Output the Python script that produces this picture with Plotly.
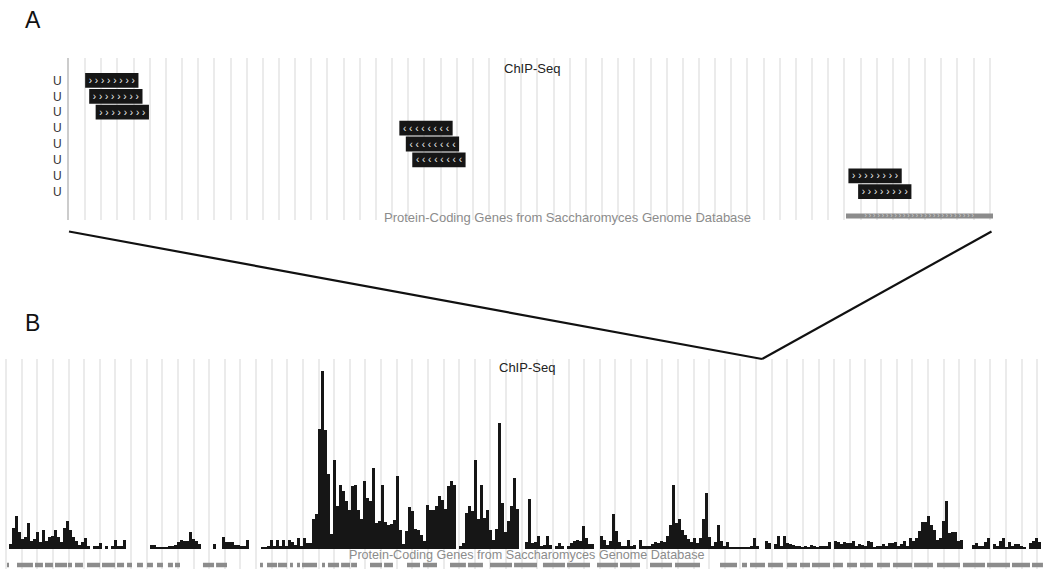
import plotly.graph_objects as go

W, H = 1047, 569
FONT = "Liberation Sans, Arial, sans-serif"
INK = "#161616"
GRID = "#ebebeb"
GENE_GRAY = "#8c8c8c"

# ---------------- Panel A: individual ChIP-Seq reads (~1.1 kb window) ----------------
A_START, A_END = 47810, 48954
read_start = [47830, 47835, 47843, 48219, 48227, 48235, 48775, 48787]
read_len = [66, 66, 66, 66, 66, 66, 66, 66]
read_strand = ["+", "+", "+", "-", "-", "-", "+", "+"]
read_row = [1, 2, 3, 4, 5, 6, 7, 8]
row_label = ["U", "U", "U", "U", "U", "U", "U", "U"]

geneA_start = [48772]
geneA_end = [48954]
geneA_strand = ["+"]

# ---------------- Panel B: ChIP-Seq coverage over ~66 kb ----------------
B_START = 187          # first bin start (bp)
BIN = 192              # bin size (bp)
coverage = [
    5, 21, 33, 17, 10, 12, 26, 8, 10, 17,
    7, 19, 8, 12, 13, 19, 12, 7, 21, 28,
    19, 12, 8, 4, 7, 11, 3, 0, 3, 3,
    6, 0, 3, 0, 3, 9, 3, 3, 9, 0,
    0, 0, 0, 0, 0, 0, 0, 4, 4, 2,
    2, 2, 2, 3, 3, 4, 7, 9, 8, 8,
    17, 10, 8, 5, 0, 0, 0, 0, 5, 0,
    0, 12, 7, 7, 7, 4, 4, 3, 3, 9,
    0, 0, 0, 0, 2, 2, 3, 9, 3, 9,
    3, 9, 3, 9, 7, 4, 11, 3, 11, 6,
    6, 30, 35, 120, 178, 119, 75, 15, 89, 43,
    64, 58, 48, 39, 63, 64, 39, 30, 68, 51,
    48, 81, 26, 28, 64, 27, 24, 25, 29, 73,
    19, 5, 18, 42, 38, 20, 19, 14, 8, 44,
    39, 39, 43, 53, 49, 40, 63, 68, 64, 0,
    3, 6, 36, 43, 38, 89, 30, 64, 31, 39,
    19, 9, 20, 126, 46, 17, 28, 43, 71, 40,
    0, 0, 7, 50, 6, 7, 13, 3, 4, 13,
    4, 0, 3, 6, 3, 0, 3, 6, 8, 9,
    8, 23, 11, 5, 5, 0, 0, 13, 9, 4,
    8, 35, 18, 7, 3, 3, 9, 3, 4, 0,
    9, 3, 3, 3, 5, 7, 6, 8, 7, 13,
    24, 64, 26, 30, 19, 14, 10, 7, 11, 6,
    11, 30, 56, 12, 3, 7, 24, 8, 3, 7,
    2, 2, 2, 2, 2, 2, 2, 3, 11, 3,
    0, 0, 8, 6, 0, 5, 13, 3, 13, 6,
    5, 4, 3, 3, 2, 3, 2, 4, 3, 2,
    3, 3, 3, 7, 0, 8, 7, 5, 7, 6,
    6, 8, 3, 5, 4, 3, 8, 7, 2, 3,
    3, 5, 3, 6, 6, 7, 3, 5, 8, 3,
    11, 8, 11, 18, 27, 27, 33, 24, 19, 9,
    11, 28, 48, 16, 17, 17, 8, 9, 0, 0,
    0, 4, 6, 3, 3, 7, 11, 0, 5, 3,
    8, 11, 2, 7, 3, 5, 5, 3, 2, 0,
    6, 8, 11, 7,
]

geneB_start = [60, 700, 1850, 2490, 3130, 3960, 4410, 5180, 6140, 7100,
               7740, 8380, 9020, 9660, 10360, 10810, 12600, 13440, 16250, 16700,
               17400, 18170, 18620, 18940, 20220, 20600, 21440, 22080, 23290, 24190,
               25660, 26680, 28410, 29560, 30970, 32510, 34360, 35900, 37820, 39290,
               41210, 42810, 45690, 47100, 47610, 48760, 49980, 50810, 51580, 52920,
               53820, 54650, 55740, 56760, 58110, 59580, 61240, 62780, 64380, 65660]
geneB_end = [155, 1720, 2360, 3000, 3900, 4220, 4920, 6010, 6970, 7550,
             8060, 8760, 9400, 10040, 10680, 11130, 13310, 14140, 16440, 17340,
             17980, 18360, 18810, 19900, 20410, 21310, 22010, 22460, 24060, 24760,
             26490, 27580, 29430, 30520, 32380, 33980, 35770, 37370, 39160, 40570,
             42620, 44410, 46780, 47420, 48570, 49720, 50620, 51450, 52730, 53560,
             54460, 55480, 56570, 57980, 59320, 61050, 62650, 64250, 65530, 66360]

# ---------------- layout geometry (pixels) ----------------
A_LEFT, A_RIGHT, A_TOP, A_BOTTOM = 69, 993, 58, 220
B_TOP = 359
ROW_PX = 15.9              # pixels per read row
ROW1_PX = 80.4             # centre of first row
a_yrange = [1 + (A_BOTTOM - ROW1_PX) / ROW_PX, 1 - (ROW1_PX - A_TOP) / ROW_PX]
geneA_row = 1 + (216 - ROW1_PX) / ROW_PX
b_xrange = [B_START - 9 * BIN / 3, B_START + (W - 9) * BIN / 3]
b_yrange = [-20, 190]
geneB_level = -16


def chevrons(strand, n):
    ch = "\u203a" if strand == "+" else "\u2039"
    return " ".join([ch] * n)


fig = go.Figure()

# reads
fig.add_trace(go.Bar(
    orientation="h",
    base=read_start,
    x=read_len,
    y=read_row,
    width=0.93,
    marker=dict(color=INK, line=dict(width=0)),
    text=[chevrons(s, 8) for s in read_strand],
    textposition="inside",
    insidetextanchor="middle",
    constraintext="none",
    textfont=dict(family=FONT, size=10, color="#f0f0f0"),
    xaxis="x", yaxis="y",
    hoverinfo="skip", showlegend=False,
))

# gene model in panel A
fig.add_trace(go.Bar(
    orientation="h",
    base=geneA_start,
    x=[e - s for s, e in zip(geneA_start, geneA_end)],
    y=[geneA_row] * len(geneA_start),
    width=0.3,
    marker=dict(color=GENE_GRAY, line=dict(width=0)),
    text=[chevrons(s, 26) for s in geneA_strand],
    textposition="inside",
    insidetextanchor="middle",
    constraintext="none",
    textfont=dict(family=FONT, size=7, color="#d4d4d4"),
    xaxis="x", yaxis="y",
    hoverinfo="skip", showlegend=False,
))

# coverage histogram
fig.add_trace(go.Bar(
    x=[B_START + BIN * (i + 0.5) for i in range(len(coverage))],
    y=coverage,
    width=BIN,
    marker=dict(color=INK, line=dict(width=0)),
    xaxis="x2", yaxis="y2",
    hoverinfo="skip", showlegend=False,
))

# gene models in panel B
fig.add_trace(go.Bar(
    orientation="h",
    base=geneB_start,
    x=[e - s for s, e in zip(geneB_start, geneB_end)],
    y=[geneB_level] * len(geneB_start),
    width=4.5,
    marker=dict(color=GENE_GRAY, line=dict(width=0)),
    xaxis="x2", yaxis="y2",
    hoverinfo="skip", showlegend=False,
))

fig.update_layout(
    width=W, height=H,
    margin=dict(l=0, r=0, t=0, b=0),
    paper_bgcolor="white", plot_bgcolor="white",
    template="none",
    barmode="overlay",
    font=dict(family=FONT),
    xaxis=dict(
        domain=[A_LEFT / W, A_RIGHT / W], range=[A_START, A_END],
        tick0=A_START, dtick=20, showgrid=True, gridcolor=GRID, gridwidth=2,
        showticklabels=False, ticks="", zeroline=False, showline=False, anchor="y",
    ),
    yaxis=dict(
        domain=[(H - A_BOTTOM) / H, (H - A_TOP) / H], range=a_yrange,
        tickvals=read_row, ticktext=row_label, ticks="", showgrid=False,
        zeroline=False, showline=True, linecolor="#cccccc", linewidth=2,
        ticklabelstandoff=3,
        tickfont=dict(family=FONT, size=12, color="#333333"), anchor="x",
    ),
    xaxis2=dict(
        domain=[0, 1], range=b_xrange, tick0=0, dtick=1000,
        showgrid=True, gridcolor=GRID, gridwidth=2, showticklabels=False,
        ticks="", zeroline=False, showline=False, anchor="y2",
    ),
    yaxis2=dict(
        domain=[0, (H - B_TOP) / H], range=b_yrange, showgrid=False,
        showticklabels=False, ticks="", zeroline=False, showline=False, anchor="x2",
    ),
)


def label(text, px, py, size, color, **kw):
    fig.add_annotation(
        text=text, x=px / W, y=1 - py / H, xref="paper", yref="paper",
        showarrow=False, xanchor=kw.get("xanchor", "center"), yanchor="middle",
        font=dict(family=FONT, size=size, color=color),
    )


TRACK_LABEL = "Protein-Coding Genes from Saccharomyces Genome Database"
label("A", 33, 20, 23, "#111111")
label("B", 32, 323, 23, "#111111")
label("ChIP-Seq", 532, 68, 13, "#222222")
label(TRACK_LABEL, 567, 217, 13, "#8c8c8c")
label("ChIP-Seq", 527, 367, 13, "#222222")
label(TRACK_LABEL, 527, 555, 12.6, "#8c8c8c")

# zoom connector: panel A window -> its location in panel B
a_mid = (A_START + A_END) / 2
v_x = (a_mid - b_xrange[0]) / (b_xrange[1] - b_xrange[0])
v_y = (H - B_TOP) / H
top_y = (H - 231.5) / H
for ax in (A_LEFT / W, (A_RIGHT - 1.5) / W):
    fig.add_shape(type="line", xref="paper", yref="paper",
                  x0=ax, y0=top_y, x1=v_x, y1=v_y,
                  line=dict(color="#111111", width=2.2))

fig.write_html("out.html")
